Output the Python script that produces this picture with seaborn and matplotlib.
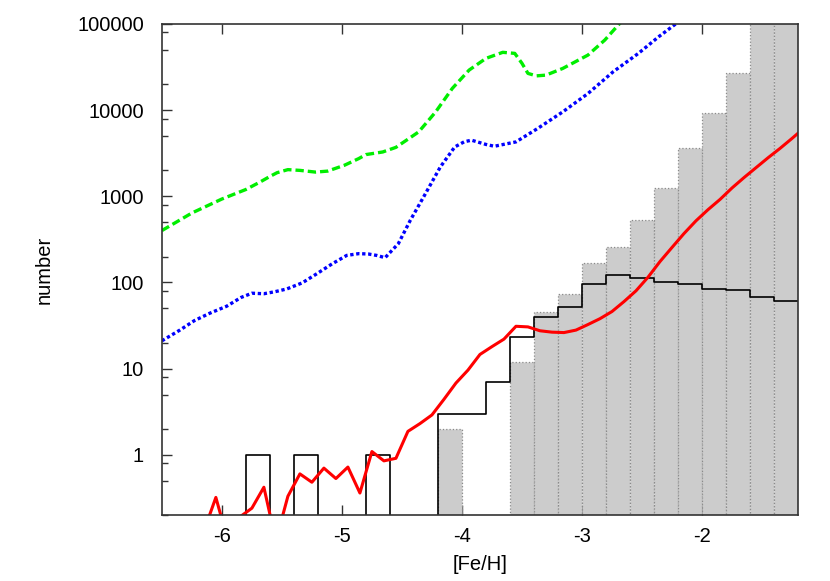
"""Distribution en [Fe/H] : histogrammes observés et courbes de modèles."""

import matplotlib

matplotlib.use("Agg")

import matplotlib.pyplot as plt
import numpy as np
import pandas as pd
import seaborn as sns
from matplotlib.ticker import FixedLocator, LogLocator, NullFormatter

# Bords des classes (largeur 0.2 dex)
bin_edges = [-6.6, -6.4, -6.2, -6.0, -5.8, -5.6, -5.4, -5.2, -5.0, -4.8, -4.6, -4.4,
             -4.2, -4.0, -3.8, -3.6, -3.4, -3.2, -3.0, -2.8, -2.6, -2.4, -2.2, -2.0,
             -1.8, -1.6, -1.4, -1.2]

# Histogramme gris (échantillon complet)
gray_counts = [0, 0, 0, 0, 0, 0, 0, 0, 0, 0, 0, 0,
               2, 0, 0, 12, 45, 74, 170, 256, 530, 1240, 3600, 9200,
               27000, 160000, 480000]

# Histogramme noir (contour)
black_counts = [0, 0, 0, 0, 1, 0, 1, 0, 0, 1, 0, 0,
                3, 3, 7, 23, 40, 52, 95, 121, 112, 101, 97, 83,
                81, 67, 61]

# Courbe rouge
red_feh = [-6.25, -6.15, -6.05, -5.95, -5.85, -5.75, -5.65, -5.55, -5.45, -5.35,
           -5.25, -5.15, -5.05, -4.95, -4.85, -4.75, -4.65, -4.55, -4.45, -4.35,
           -4.25, -4.15, -4.05, -3.95, -3.85, -3.75, -3.65, -3.55, -3.45, -3.35,
           -3.25, -3.15, -3.05, -2.95, -2.85, -2.75, -2.65, -2.55, -2.45, -2.35,
           -2.25, -2.15, -2.05, -1.95, -1.85, -1.75, -1.65, -1.55, -1.45, -1.35,
           -1.25, -1.15]
red_number = [0.05, 0.13, 0.32, 0.10, 0.19, 0.24, 0.42, 0.10, 0.33, 0.60,
              0.48, 0.70, 0.53, 0.72, 0.36, 1.09, 0.85, 0.91, 1.87, 2.3,
              2.9, 4.4, 6.8, 9.6, 14.6, 18, 22, 31, 30.5, 27.5,
              26.5, 26.2, 28, 32.5, 38, 46, 60, 80, 115, 175,
              255, 370, 520, 700, 920, 1250, 1650, 2150, 2800, 3600,
              4700, 6200]

# Courbe verte (tirets)
green_feh = [-6.50, -6.25, -6.00, -5.80, -5.68, -5.60, -5.54, -5.45, -5.35, -5.22,
             -5.12, -4.98, -4.86, -4.80, -4.66, -4.55, -4.45, -4.36, -4.22, -4.08,
             -3.94, -3.80, -3.66, -3.56, -3.50, -3.45, -3.38, -3.30, -3.16, -2.95,
             -2.81, -2.69, -2.60]
green_number = [400, 640, 930, 1200, 1470, 1700, 1880, 2040, 2000, 1910,
                1960, 2290, 2740, 3050, 3270, 3700, 4600, 5600, 9500, 17900,
                29200, 39900, 46900, 45600, 35000, 26700, 25000, 25500, 30500, 43600,
                65100, 100000, 130000]

# Courbe bleue (pointillés)
blue_feh = [-6.50, -6.35, -6.23, -6.10, -5.96, -5.84, -5.75, -5.65, -5.56, -5.46,
            -5.33, -5.21, -5.08, -4.96, -4.86, -4.78, -4.71, -4.64, -4.53, -4.43,
            -4.32, -4.18, -4.06, -3.98, -3.92, -3.80, -3.73, -3.55, -3.37, -3.16,
            -2.95, -2.74, -2.53, -2.36, -2.22, -2.15]
blue_number = [21, 28, 36, 44, 53, 67, 75, 74, 78, 84,
               99, 126, 165, 206, 216, 214, 206, 194, 282, 527,
               980, 2190, 3740, 4300, 4480, 4000, 3810, 4280, 6120, 9550,
               15600, 27900, 45600, 71300, 100000, 120000]

x_ticks = [-6, -5, -4, -3, -2]
x_tick_labels = ["-6", "-5", "-4", "-3", "-2"]
y_ticks = [1, 10, 100, 1000, 10000, 100000]
y_tick_labels = ["1", "10", "100", "1000", "10000", "100000"]


def main() -> None:
    sns.set_theme(style="ticks")
    plt.rcParams["font.family"] = ["Liberation Sans", "DejaVu Sans"]
    plt.rcParams["axes.unicode_minus"] = False
    plt.rcParams["text.color"] = "black"
    plt.rcParams["axes.labelcolor"] = "black"
    plt.rcParams["xtick.labelcolor"] = "black"
    plt.rcParams["ytick.labelcolor"] = "black"

    fig = plt.figure(figsize=(8.3, 5.81), dpi=100)
    ax = fig.add_axes([0.195, 0.1136, 0.7665, 0.8451])

    edges = np.array(bin_edges)
    centers = (edges[:-1] + edges[1:]) / 2
    hist_df = pd.DataFrame({"feh": centers, "gray": gray_counts, "black": black_counts})

    sns.histplot(data=hist_df, x="feh", weights="gray", bins=bin_edges, element="bars",
                 color="#cccccc", alpha=1, edgecolor="#8a8a8a", linestyle=":",
                 linewidth=0.9, ax=ax)
    sns.histplot(data=hist_df, x="feh", weights="black", bins=bin_edges, element="step",
                 fill=False, color="black", linewidth=1.2, ax=ax)

    sns.lineplot(x=red_feh, y=red_number, color="#ff0000", linewidth=2.2, ax=ax)
    sns.lineplot(x=green_feh, y=green_number, color="#00ee00", linewidth=2.4,
                 linestyle=(0, (2.5, 1.2)), ax=ax)
    sns.lineplot(x=blue_feh, y=blue_number, color="#0000ff", linewidth=2.4,
                 linestyle=(0, (1, 0.8)), ax=ax)

    ax.set_yscale("log")
    ax.set_xlim(-6.5, -1.2)
    ax.set_ylim(0.2, 100000)

    ax.xaxis.set_major_locator(FixedLocator(x_ticks))
    ax.set_xticklabels(x_tick_labels)
    ax.yaxis.set_major_locator(FixedLocator(y_ticks))
    ax.set_yticklabels(y_tick_labels)
    ax.yaxis.set_minor_locator(LogLocator(base=10, subs=[2, 5, 8]))
    ax.yaxis.set_minor_formatter(NullFormatter())

    ax.tick_params(axis="both", which="major", direction="in", length=7,
                   width=1, labelsize=14.5, top=True, right=False,
                   color="#333333")
    ax.tick_params(axis="x", which="major", pad=9)
    ax.tick_params(axis="y", which="major", pad=13)
    ax.tick_params(axis="y", which="minor", direction="in", length=4,
                   width=1, right=False, color="#333333")
    for spine in ax.spines.values():
        spine.set_visible(True)
        spine.set_linewidth(1.2)
        spine.set_color("#333333")

    ax.set_xlabel("[Fe/H]", fontsize=14.5, labelpad=6)
    ax.set_ylabel("number", fontsize=14.5, labelpad=17)
    ax.set_facecolor("white")

    fig.savefig("out.png", dpi=100)
    plt.close(fig)


if __name__ == "__main__":
    main()
